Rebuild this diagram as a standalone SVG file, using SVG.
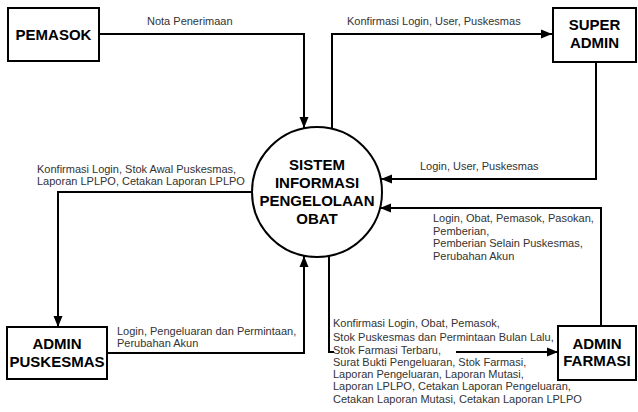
<svg xmlns="http://www.w3.org/2000/svg" width="638" height="412" viewBox="0 0 638 412">
  <style>
    .box { fill: #ffffff; stroke: #000000; stroke-width: 2; }
    .name { font-family: "Liberation Sans", Arial, sans-serif; font-size: 15px; font-weight: bold; fill: #000000; text-anchor: middle; }
    .flow { fill: none; stroke: #000000; stroke-width: 2; }
    .lbl { font-family: "Liberation Sans", Arial, sans-serif; font-size: 11px; fill: #333333; }
  </style>
  <defs>
    <marker id="arrow" markerUnits="userSpaceOnUse" markerWidth="12" markerHeight="12" viewBox="0 0 12 12" refX="11" refY="6" orient="auto">
      <path d="M0,1.5 L11,6 L0,10.5 Z" fill="#000000"/>
    </marker>
  </defs>
  <rect width="638" height="412" fill="#ffffff"/>

  <!-- data flows -->
  <g id="connectors">
    <path class="flow" d="M99,34 H304 V128" marker-end="url(#arrow)"/>
    <path class="flow" d="M332,129 V34 H552" marker-end="url(#arrow)"/>
    <path class="flow" d="M596,62 V179 H381" marker-end="url(#arrow)"/>
    <path class="flow" d="M601,326 V208 H380" marker-end="url(#arrow)"/>
    <path class="flow" d="M329,256 V352 H334"/>
    <path class="flow" d="M456,352 H558" marker-end="url(#arrow)"/>
    <path class="flow" d="M252,192 H58 V327" marker-end="url(#arrow)"/>
    <path class="flow" d="M107,353 H304 V256" marker-end="url(#arrow)"/>

    <text class="lbl" x="147" y="25">Nota Penerimaan</text>
    <text class="lbl" x="347" y="25">Konfirmasi Login, User, Puskesmas</text>
    <text class="lbl" x="420" y="170">Login, User, Puskesmas</text>
    <text class="lbl" x="433" y="222">Login, Obat, Pemasok, Pasokan,</text>
    <text class="lbl" x="433" y="234.7">Pemberian,</text>
    <text class="lbl" x="433" y="247.4">Pemberian Selain Puskesmas,</text>
    <text class="lbl" x="433" y="260.1">Perubahan Akun</text>
    <text class="lbl" x="37" y="173">Konfirmasi Login, Stok Awal Puskesmas,</text>
    <text class="lbl" x="37" y="185">Laporan LPLPO, Cetakan Laporan LPLPO</text>
    <text class="lbl" x="117" y="335">Login, Pengeluaran dan Permintaan,</text>
    <text class="lbl" x="117" y="347">Perubahan Akun</text>
    <text class="lbl" x="333" y="327">Konfirmasi Login, Obat, Pemasok,</text>
    <text class="lbl" x="333" y="341">Stok Puskesmas dan Permintaan Bulan Lalu,</text>
    <text class="lbl" x="333" y="353.5">Stok Farmasi Terbaru,</text>
    <text class="lbl" x="333" y="366">Surat Bukti Pengeluaran, Stok Farmasi,</text>
    <text class="lbl" x="333" y="378">Laporan Pengeluaran, Laporan Mutasi,</text>
    <text class="lbl" x="333" y="390">Laporan LPLPO, Cetakan Laporan Pengeluaran,</text>
    <text class="lbl" x="333" y="402.5">Cetakan Laporan Mutasi, Cetakan Laporan LPLPO</text>
  </g>

  <!-- process -->
  <g id="sistem">
    <circle class="box" cx="317" cy="192" r="65"/>
    <text class="name" x="317" y="170">SISTEM</text>
    <text class="name" x="317" y="188">INFORMASI</text>
    <text class="name" x="317" y="206">PENGELOLAAN</text>
    <text class="name" x="317" y="224">OBAT</text>
  </g>

  <!-- external entities -->
  <g id="pemasok">
    <rect class="box" x="8" y="8" width="91" height="53"/>
    <text class="name" x="53.5" y="39.5">PEMASOK</text>
  </g>
  <g id="super-admin">
    <rect class="box" x="553" y="8" width="83" height="54"/>
    <text class="name" x="594.5" y="29.5">SUPER</text>
    <text class="name" x="594.5" y="47.5">ADMIN</text>
  </g>
  <g id="admin-puskesmas">
    <rect class="box" x="7" y="327" width="100" height="52"/>
    <text class="name" x="57" y="348.5">ADMIN</text>
    <text class="name" x="57" y="366.5">PUSKESMAS</text>
  </g>
  <g id="admin-farmasi">
    <rect class="box" x="558" y="326" width="78" height="54"/>
    <text class="name" x="597" y="348.5">ADMIN</text>
    <text class="name" x="597" y="366">FARMASI</text>
  </g>
</svg>
